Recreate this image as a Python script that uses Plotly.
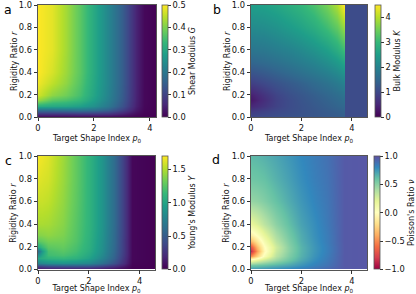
import plotly.graph_objects as go

# ---------------- data ----------------
# Panel a : Shear modulus G
a_p0 = [0, 0.5, 1, 1.5, 2, 2.5, 3, 3.5, 3.8, 4.22]
a_r = [0, 0.03, 0.06, 0.1, 0.15, 0.2, 0.3, 0.4, 0.6, 1.0]
a_G = [
    [0.0, 0.0, 0.0, 0.0, 0.0, 0.0, 0.0, 0.0, 0.0, 0.0],
    [0.07, 0.07, 0.07, 0.075, 0.075, 0.069, 0.045, 0.015, 0.003, 0.0],
    [0.18, 0.18, 0.185, 0.19, 0.178, 0.15, 0.098, 0.033, 0.007, 0.0],
    [0.31, 0.30, 0.295, 0.28, 0.25, 0.20, 0.13, 0.044, 0.009, 0.0],
    [0.42, 0.37, 0.355, 0.33, 0.279, 0.219, 0.143, 0.048, 0.01, 0.0],
    [0.465, 0.415, 0.39, 0.35, 0.291, 0.225, 0.147, 0.049, 0.01, 0.0],
    [0.49, 0.452, 0.415, 0.363, 0.297, 0.23, 0.15, 0.05, 0.01, 0.0],
    [0.50, 0.47, 0.425, 0.37, 0.30, 0.23, 0.15, 0.05, 0.01, 0.0],
    [0.50, 0.48, 0.43, 0.37, 0.30, 0.23, 0.15, 0.05, 0.01, 0.0],
    [0.50, 0.48, 0.43, 0.37, 0.30, 0.23, 0.15, 0.05, 0.01, 0.0],
]

# Panel b : Bulk modulus K
b_p0 = [0, 0.5, 1, 1.5, 2, 2.5, 3, 3.4, 3.69, 3.71, 4.6]
b_r = [0, 0.05, 0.1, 0.15, 0.2, 0.3, 0.4, 0.5, 0.6, 0.8, 1.0]
b_K = [
    [1.00, 1.05, 1.10, 1.15, 1.18, 1.22, 1.26, 1.30, 1.35, 1.05, 1.05],
    [0.80, 0.90, 1.00, 1.08, 1.15, 1.22, 1.30, 1.36, 1.42, 1.05, 1.05],
    [0.50, 0.70, 0.90, 1.05, 1.15, 1.25, 1.36, 1.45, 1.52, 1.05, 1.05],
    [0.30, 0.60, 0.88, 1.05, 1.18, 1.30, 1.42, 1.52, 1.62, 1.05, 1.05],
    [0.40, 0.68, 0.92, 1.10, 1.22, 1.35, 1.48, 1.60, 1.72, 1.05, 1.05],
    [0.85, 1.00, 1.15, 1.28, 1.40, 1.55, 1.70, 1.85, 2.00, 1.05, 1.05],
    [1.20, 1.30, 1.42, 1.55, 1.68, 1.82, 1.98, 2.15, 2.32, 1.05, 1.05],
    [1.50, 1.58, 1.68, 1.80, 1.92, 2.06, 2.25, 2.45, 2.68, 1.05, 1.05],
    [1.75, 1.80, 1.90, 2.00, 2.13, 2.30, 2.52, 2.78, 3.08, 1.05, 1.05],
    [2.15, 2.20, 2.30, 2.45, 2.60, 2.80, 3.10, 3.40, 3.80, 1.05, 1.05],
    [2.50, 2.55, 2.65, 2.80, 2.95, 3.20, 3.55, 3.95, 4.50, 1.05, 1.05],
]

# Panel c : Young's modulus Y
c_p0 = [0, 0.15, 0.4, 1, 1.5, 2, 2.5, 3, 3.4, 3.7, 4.6]
c_r = [0, 0.03, 0.06, 0.1, 0.13, 0.16, 0.2, 0.25, 0.3, 0.4, 0.6, 0.8, 1.0]
c_Y = [
    [0.0, 0.0, 0.0, 0.0, 0.0, 0.0, 0.0, 0.0, 0.0, 0.0, 0.0],
    [0.34, 0.37, 0.41, 0.44, 0.45, 0.44, 0.35, 0.24, 0.12, 0.01, 0.0],
    [0.76, 0.80, 0.84, 0.87, 0.84, 0.79, 0.63, 0.43, 0.22, 0.02, 0.0],
    [1.01, 1.05, 1.10, 1.13, 1.08, 0.97, 0.77, 0.53, 0.26, 0.03, 0.0],
    [0.84, 1.00, 1.17, 1.20, 1.14, 1.01, 0.81, 0.55, 0.28, 0.03, 0.0],
    [0.59, 0.91, 1.20, 1.25, 1.18, 1.05, 0.84, 0.57, 0.29, 0.03, 0.0],
    [1.01, 1.13, 1.26, 1.29, 1.20, 1.07, 0.85, 0.58, 0.29, 0.03, 0.0],
    [1.26, 1.29, 1.34, 1.33, 1.23, 1.08, 0.86, 0.59, 0.29, 0.03, 0.0],
    [1.38, 1.39, 1.41, 1.36, 1.24, 1.09, 0.87, 0.59, 0.30, 0.03, 0.0],
    [1.48, 1.48, 1.47, 1.39, 1.25, 1.10, 0.88, 0.60, 0.30, 0.03, 0.0],
    [1.56, 1.56, 1.54, 1.42, 1.27, 1.10, 0.88, 0.60, 0.30, 0.03, 0.0],
    [1.63, 1.61, 1.59, 1.44, 1.28, 1.10, 0.88, 0.60, 0.30, 0.03, 0.0],
    [1.68, 1.66, 1.62, 1.45, 1.28, 1.10, 0.88, 0.60, 0.30, 0.03, 0.0],
]

# Panel d : Poisson's ratio nu
d_p0 = [0, 0.25, 0.5, 1, 1.5, 2, 2.5, 3, 3.7, 4.6]
d_r = [0, 0.04, 0.08, 0.12, 0.16, 0.2, 0.25, 0.3, 0.4, 0.6, 0.8, 1.0]
d_nu = [
    [0.80, 0.80, 0.81, 0.83, 0.85, 0.87, 0.89, 0.92, 0.96, 0.97],
    [0.55, 0.57, 0.60, 0.65, 0.70, 0.76, 0.82, 0.87, 0.96, 0.97],
    [0.10, 0.20, 0.30, 0.45, 0.58, 0.69, 0.78, 0.85, 0.96, 0.97],
    [-0.50, -0.25, 0.05, 0.35, 0.53, 0.66, 0.76, 0.84, 0.96, 0.97],
    [-0.85, -0.45, -0.05, 0.30, 0.50, 0.65, 0.75, 0.83, 0.96, 0.97],
    [-0.70, -0.35, -0.02, 0.28, 0.50, 0.65, 0.75, 0.83, 0.96, 0.97],
    [-0.35, -0.15, 0.08, 0.35, 0.53, 0.67, 0.76, 0.84, 0.96, 0.97],
    [-0.10, 0.02, 0.18, 0.40, 0.56, 0.68, 0.77, 0.84, 0.96, 0.97],
    [0.17, 0.24, 0.34, 0.49, 0.61, 0.71, 0.78, 0.85, 0.96, 0.97],
    [0.46, 0.48, 0.52, 0.60, 0.68, 0.75, 0.81, 0.86, 0.96, 0.97],
    [0.57, 0.58, 0.60, 0.66, 0.72, 0.78, 0.83, 0.87, 0.96, 0.97],
    [0.63, 0.64, 0.66, 0.70, 0.75, 0.80, 0.84, 0.88, 0.96, 0.97],
]

r_ticks = [0, 0.2, 0.4, 0.6, 0.8, 1.0]
r_ticktext = ["0.0", "0.2", "0.4", "0.6", "0.8", "1.0"]
p_ticks = [0, 2, 4]
p_ticktext = ["0", "2", "4"]

a_cb_ticks = [0, 0.1, 0.2, 0.3, 0.4, 0.5]
a_cb_text = ["0.0", "0.1", "0.2", "0.3", "0.4", "0.5"]
b_cb_ticks = [0, 1, 2, 3, 4]
b_cb_text = ["0", "1", "2", "3", "4"]
c_cb_ticks = [0, 0.5, 1.0, 1.5]
c_cb_text = ["0.0", "0.5", "1.0", "1.5"]
d_cb_ticks = [-1, -0.5, 0, 0.5, 1]
d_cb_text = ["\u22121.0", "\u22120.5", "0.0", "0.5", "1.0"]

spectral = ['rgb(158,1,66)', 'rgb(213,62,79)', 'rgb(244,109,67)', 'rgb(253,174,97)',
            'rgb(254,224,139)', 'rgb(255,255,191)', 'rgb(230,245,152)', 'rgb(171,221,164)',
            'rgb(102,194,165)', 'rgb(50,136,189)', 'rgb(94,79,162)']
spectral_scale = [[i / 10, c] for i, c in enumerate(spectral)]

# ---------------- layout geometry ----------------
W, H = 416, 294
FONT = "DejaVu Sans"
LINE = "#555"

def px_x(p):
    return p / W

def px_y(p):
    return 1 - p / H

panels = {
    "a": dict(x0=38, x1=156, y0=5, y1=117, cbx=162, ytx=14),
    "b": dict(x0=251, x1=367, y0=5, y1=117, cbx=375, ytx=227),
    "c": dict(x0=38, x1=155, y0=156, y1=269.5, cbx=162, ytx=14),
    "d": dict(x0=251, x1=367, y0=156, y1=269.5, cbx=374, ytx=227),
}

def cbar(title, tv, tt, g):
    return dict(
        title=dict(text=title, side="right", font=dict(size=8, family=FONT, color="#111")),
        x=px_x(g["cbx"]), xanchor="left", xpad=0, ypad=0,
        y=(px_y(g["y0"]) + px_y(g["y1"])) / 2, yanchor="middle",
        len=px_y(g["y0"]) - px_y(g["y1"]), lenmode="fraction",
        thickness=6, thicknessmode="pixels",
        outlinewidth=0.8, outlinecolor=LINE,
        tickvals=tv, ticktext=tt, ticks="outside", ticklen=3, tickwidth=0.8,
        tickcolor="#333", tickfont=dict(size=8.3, family=FONT, color="#111"),
        ticklabeloverflow="allow",
    )

fig = go.Figure()
fig.add_trace(go.Heatmap(x=a_p0, y=a_r, z=a_G, zsmooth="best", colorscale="Viridis",
                         zmin=0, zmax=0.5, xaxis="x", yaxis="y",
                         colorbar=cbar("Shear Modulus <i>G</i>", a_cb_ticks, a_cb_text, panels["a"])))
fig.add_trace(go.Heatmap(x=b_p0, y=b_r, z=b_K, zsmooth="best", colorscale="Viridis",
                         zmin=0, zmax=4.5, xaxis="x2", yaxis="y2",
                         colorbar=cbar("Bulk Modulus <i>K</i>", b_cb_ticks, b_cb_text, panels["b"])))
fig.add_trace(go.Heatmap(x=c_p0, y=c_r, z=c_Y, zsmooth="best", colorscale="Viridis",
                         zmin=0, zmax=1.7, xaxis="x3", yaxis="y3",
                         colorbar=cbar("Young's Modulus <i>Y</i>", c_cb_ticks, c_cb_text, panels["c"])))
fig.add_trace(go.Heatmap(x=d_p0, y=d_r, z=d_nu, zsmooth="best", colorscale=spectral_scale,
                         zmin=-1, zmax=1, xaxis="x4", yaxis="y4",
                         colorbar=cbar("Poisson's Ratio <i>\u03bd</i>", d_cb_ticks, d_cb_text, panels["d"])))

xmax = {"a": 4.22, "b": 4.6, "c": 4.6, "d": 4.6}
names = ["a", "b", "c", "d"]
layout = dict(
    width=W, height=H, margin=dict(l=0, r=0, t=0, b=0, autoexpand=False),
    paper_bgcolor="white", plot_bgcolor="white",
    font=dict(family=FONT, size=8.3, color="#111"),
    showlegend=False, annotations=[],
)
for i, n in enumerate(names):
    g = panels[n]
    sx = "xaxis" if i == 0 else f"xaxis{i+1}"
    sy = "yaxis" if i == 0 else f"yaxis{i+1}"
    ax_id = "x" if i == 0 else f"x{i+1}"
    ay_id = "y" if i == 0 else f"y{i+1}"
    common = dict(showline=True, mirror=True, linecolor=LINE, linewidth=0.8,
                  ticks="outside", ticklen=3.5, tickwidth=0.8, tickcolor="#333",
                  showgrid=False, zeroline=False, automargin=False,
                  ticklabeloverflow="allow",
                  tickfont=dict(size=8.3, family=FONT, color="#111"))
    layout[sx] = dict(common, domain=[px_x(g["x0"]), px_x(g["x1"])], range=[0, xmax[n]],
                      anchor=ay_id, tickvals=p_ticks, ticktext=p_ticktext,
                      title=dict(text="Target Shape Index <i>p</i><sub>0</sub>", standoff=3,
                                 font=dict(size=8, family=FONT, color="#111")))
    layout[sy] = dict(common, domain=[px_y(g["y1"]), px_y(g["y0"])], range=[0, 1],
                      anchor=ax_id, tickvals=r_ticks, ticktext=r_ticktext)
    # y-axis title placed as rotated text
    layout["annotations"].append(dict(
        text="Rigidity Ratio <i>r</i>", textangle=-90,
        x=px_x(g["ytx"]), y=(px_y(g["y0"]) + px_y(g["y1"])) / 2,
        xref="paper", yref="paper", xanchor="center", yanchor="middle", showarrow=False,
        font=dict(size=8, family=FONT, color="#111")))

label_pos = {"a": (8, 9), "b": (217, 9), "c": (8, 160), "d": (216, 159)}
for n in names:
    lx, ly = label_pos[n]
    layout["annotations"].append(dict(text=n, x=px_x(lx), y=px_y(ly), xref="paper", yref="paper",
                                      xanchor="center", yanchor="middle", showarrow=False,
                                      font=dict(size=12.5, family=FONT, color="#000")))

fig.update_layout(**layout)
fig.write_html("out.html", config={"displayModeBar": False},
               post_script="document.body.style.margin='0';document.body.style.padding='0';")
